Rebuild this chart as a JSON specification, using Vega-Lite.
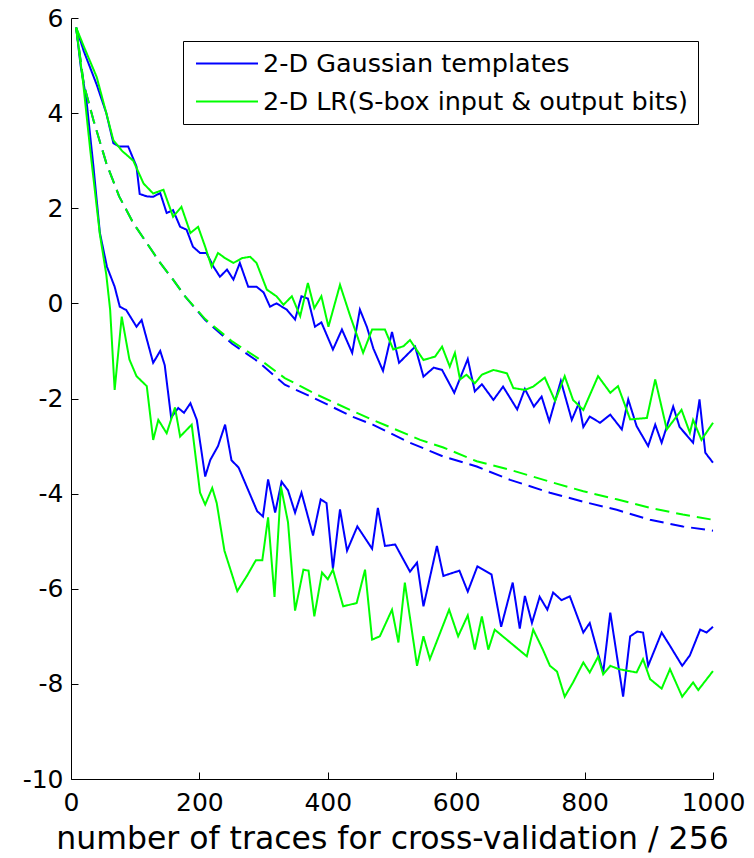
{
  "$schema": "https://vega.github.io/schema/vega-lite/v6.json",
  "width": 642,
  "height": 761,
  "autosize": "none",
  "padding": {"left": 71, "top": 18, "right": 41, "bottom": 79},
  "background": "#ffffff",
  "config": {"view": {"stroke": null}},
  "data": {
    "values": [
      {"method":"G","curve":"U","x":8,"y":5.8},{"method":"G","curve":"U","x":20,"y":5.3},{"method":"G","curve":"U","x":40,"y":4.6},{"method":"G","curve":"U","x":55,"y":4.0},{"method":"G","curve":"U","x":66,"y":3.37},{"method":"G","curve":"U","x":75,"y":3.3},{"method":"G","curve":"U","x":89,"y":3.3},{"method":"G","curve":"U","x":102,"y":2.88},{"method":"G","curve":"U","x":107,"y":2.3},{"method":"G","curve":"U","x":118,"y":2.25},{"method":"G","curve":"U","x":128,"y":2.24},{"method":"G","curve":"U","x":139,"y":2.32},{"method":"G","curve":"U","x":149,"y":1.9},{"method":"G","curve":"U","x":159,"y":1.96},{"method":"G","curve":"U","x":170,"y":1.61},{"method":"G","curve":"U","x":180,"y":1.55},{"method":"G","curve":"U","x":190,"y":1.19},{"method":"G","curve":"U","x":201,"y":1.06},{"method":"G","curve":"U","x":211,"y":1.06},{"method":"G","curve":"U","x":222,"y":0.77},{"method":"G","curve":"U","x":232,"y":0.56},{"method":"G","curve":"U","x":243,"y":0.71},{"method":"G","curve":"U","x":253,"y":0.5},{"method":"G","curve":"U","x":263,"y":0.85},{"method":"G","curve":"U","x":276,"y":0.35},{"method":"G","curve":"U","x":289,"y":0.35},{"method":"G","curve":"U","x":300,"y":0.23},{"method":"G","curve":"U","x":310,"y":-0.07},{"method":"G","curve":"U","x":320,"y":0.0},{"method":"G","curve":"U","x":336,"y":-0.13},{"method":"G","curve":"U","x":349,"y":-0.34},{"method":"G","curve":"U","x":359,"y":0.15},{"method":"G","curve":"U","x":369,"y":0.1},{"method":"G","curve":"U","x":380,"y":-0.49},{"method":"G","curve":"U","x":390,"y":-0.4},{"method":"G","curve":"U","x":408,"y":-0.97},{"method":"G","curve":"U","x":422,"y":-0.55},{"method":"G","curve":"U","x":438,"y":-1.04},{"method":"G","curve":"U","x":450,"y":-0.13},{"method":"G","curve":"U","x":461,"y":-0.5},{"method":"G","curve":"U","x":471,"y":-0.95},{"method":"G","curve":"U","x":486,"y":-1.42},{"method":"G","curve":"U","x":500,"y":-0.6},{"method":"G","curve":"U","x":511,"y":-1.25},{"method":"G","curve":"U","x":536,"y":-0.91},{"method":"G","curve":"U","x":549,"y":-1.54},{"method":"G","curve":"U","x":565,"y":-1.35},{"method":"G","curve":"U","x":578,"y":-1.4},{"method":"G","curve":"U","x":597,"y":-1.88},{"method":"G","curve":"U","x":618,"y":-1.17},{"method":"G","curve":"U","x":629,"y":-1.85},{"method":"G","curve":"U","x":640,"y":-1.7},{"method":"G","curve":"U","x":658,"y":-2.03},{"method":"G","curve":"U","x":673,"y":-1.75},{"method":"G","curve":"U","x":695,"y":-2.23},{"method":"G","curve":"U","x":707,"y":-1.8},{"method":"G","curve":"U","x":721,"y":-2.17},{"method":"G","curve":"U","x":733,"y":-1.96},{"method":"G","curve":"U","x":745,"y":-2.48},{"method":"G","curve":"U","x":763,"y":-1.63},{"method":"G","curve":"U","x":780,"y":-2.45},{"method":"G","curve":"U","x":791,"y":-2.1},{"method":"G","curve":"U","x":798,"y":-2.6},{"method":"G","curve":"U","x":808,"y":-2.38},{"method":"G","curve":"U","x":824,"y":-2.51},{"method":"G","curve":"U","x":840,"y":-2.34},{"method":"G","curve":"U","x":858,"y":-2.65},{"method":"G","curve":"U","x":868,"y":-2.02},{"method":"G","curve":"U","x":881,"y":-2.58},{"method":"G","curve":"U","x":899,"y":-3.0},{"method":"G","curve":"U","x":910,"y":-2.55},{"method":"G","curve":"U","x":920,"y":-2.93},{"method":"G","curve":"U","x":938,"y":-2.17},{"method":"G","curve":"U","x":948,"y":-2.6},{"method":"G","curve":"U","x":969,"y":-2.93},{"method":"G","curve":"U","x":979,"y":-2.02},{"method":"G","curve":"U","x":988,"y":-3.14},{"method":"G","curve":"U","x":1000,"y":-3.35},

      {"method":"G","curve":"M","x":8,"y":5.8},{"method":"G","curve":"M","x":20,"y":4.6},{"method":"G","curve":"M","x":35,"y":3.85},{"method":"G","curve":"M","x":55,"y":2.95},{"method":"G","curve":"M","x":75,"y":2.25},{"method":"G","curve":"M","x":97,"y":1.69},{"method":"G","curve":"M","x":118,"y":1.27},{"method":"G","curve":"M","x":139,"y":0.85},{"method":"G","curve":"M","x":159,"y":0.5},{"method":"G","curve":"M","x":178,"y":0.14},{"method":"G","curve":"M","x":209,"y":-0.35},{"method":"G","curve":"M","x":251,"y":-0.85},{"method":"G","curve":"M","x":291,"y":-1.22},{"method":"G","curve":"M","x":333,"y":-1.71},{"method":"G","curve":"M","x":380,"y":-2.0},{"method":"G","curve":"M","x":438,"y":-2.38},{"method":"G","curve":"M","x":470,"y":-2.55},{"method":"G","curve":"M","x":528,"y":-2.93},{"method":"G","curve":"M","x":580,"y":-3.22},{"method":"G","curve":"M","x":632,"y":-3.43},{"method":"G","curve":"M","x":684,"y":-3.71},{"method":"G","curve":"M","x":746,"y":-3.98},{"method":"G","curve":"M","x":798,"y":-4.17},{"method":"G","curve":"M","x":850,"y":-4.34},{"method":"G","curve":"M","x":902,"y":-4.55},{"method":"G","curve":"M","x":953,"y":-4.69},{"method":"G","curve":"M","x":1000,"y":-4.78},

      {"method":"G","curve":"L","x":8,"y":5.8},{"method":"G","curve":"L","x":15,"y":5.0},{"method":"G","curve":"L","x":24,"y":4.28},{"method":"G","curve":"L","x":35,"y":2.87},{"method":"G","curve":"L","x":45,"y":1.48},{"method":"G","curve":"L","x":56,"y":0.77},{"method":"G","curve":"L","x":68,"y":0.35},{"method":"G","curve":"L","x":76,"y":-0.07},{"method":"G","curve":"L","x":86,"y":-0.14},{"method":"G","curve":"L","x":102,"y":-0.49},{"method":"G","curve":"L","x":110,"y":-0.35},{"method":"G","curve":"L","x":128,"y":-1.25},{"method":"G","curve":"L","x":139,"y":-1.0},{"method":"G","curve":"L","x":146,"y":-1.3},{"method":"G","curve":"L","x":156,"y":-2.4},{"method":"G","curve":"L","x":167,"y":-2.2},{"method":"G","curve":"L","x":176,"y":-2.3},{"method":"G","curve":"L","x":186,"y":-2.1},{"method":"G","curve":"L","x":196,"y":-2.45},{"method":"G","curve":"L","x":209,"y":-3.64},{"method":"G","curve":"L","x":217,"y":-3.29},{"method":"G","curve":"L","x":229,"y":-3.0},{"method":"G","curve":"L","x":240,"y":-2.55},{"method":"G","curve":"L","x":250,"y":-3.3},{"method":"G","curve":"L","x":261,"y":-3.45},{"method":"G","curve":"L","x":290,"y":-4.37},{"method":"G","curve":"L","x":299,"y":-4.48},{"method":"G","curve":"L","x":307,"y":-3.7},{"method":"G","curve":"L","x":318,"y":-4.4},{"method":"G","curve":"L","x":328,"y":-3.75},{"method":"G","curve":"L","x":338,"y":-3.93},{"method":"G","curve":"L","x":349,"y":-4.4},{"method":"G","curve":"L","x":359,"y":-3.98},{"method":"G","curve":"L","x":377,"y":-4.88},{"method":"G","curve":"L","x":389,"y":-4.12},{"method":"G","curve":"L","x":398,"y":-4.2},{"method":"G","curve":"L","x":408,"y":-5.58},{"method":"G","curve":"L","x":419,"y":-4.33},{"method":"G","curve":"L","x":430,"y":-5.2},{"method":"G","curve":"L","x":446,"y":-4.69},{"method":"G","curve":"L","x":469,"y":-5.16},{"method":"G","curve":"L","x":478,"y":-4.3},{"method":"G","curve":"L","x":489,"y":-5.1},{"method":"G","curve":"L","x":505,"y":-5.07},{"method":"G","curve":"L","x":528,"y":-5.64},{"method":"G","curve":"L","x":539,"y":-5.45},{"method":"G","curve":"L","x":549,"y":-6.37},{"method":"G","curve":"L","x":570,"y":-5.1},{"method":"G","curve":"L","x":580,"y":-5.73},{"method":"G","curve":"L","x":605,"y":-5.62},{"method":"G","curve":"L","x":618,"y":-6.06},{"method":"G","curve":"L","x":633,"y":-5.53},{"method":"G","curve":"L","x":655,"y":-5.7},{"method":"G","curve":"L","x":670,"y":-6.8},{"method":"G","curve":"L","x":688,"y":-5.87},{"method":"G","curve":"L","x":699,"y":-6.84},{"method":"G","curve":"L","x":707,"y":-6.15},{"method":"G","curve":"L","x":718,"y":-6.72},{"method":"G","curve":"L","x":730,"y":-6.17},{"method":"G","curve":"L","x":742,"y":-6.44},{"method":"G","curve":"L","x":751,"y":-6.08},{"method":"G","curve":"L","x":764,"y":-6.24},{"method":"G","curve":"L","x":777,"y":-6.16},{"method":"G","curve":"L","x":798,"y":-6.92},{"method":"G","curve":"L","x":808,"y":-6.72},{"method":"G","curve":"L","x":829,"y":-7.76},{"method":"G","curve":"L","x":840,"y":-6.5},{"method":"G","curve":"L","x":860,"y":-8.27},{"method":"G","curve":"L","x":871,"y":-7.0},{"method":"G","curve":"L","x":882,"y":-6.9},{"method":"G","curve":"L","x":891,"y":-6.92},{"method":"G","curve":"L","x":899,"y":-7.62},{"method":"G","curve":"L","x":920,"y":-6.92},{"method":"G","curve":"L","x":933,"y":-7.2},{"method":"G","curve":"L","x":952,"y":-7.62},{"method":"G","curve":"L","x":964,"y":-7.4},{"method":"G","curve":"L","x":980,"y":-6.86},{"method":"G","curve":"L","x":990,"y":-6.92},{"method":"G","curve":"L","x":1000,"y":-6.8},

      {"method":"R","curve":"U","x":8,"y":5.8},{"method":"R","curve":"U","x":20,"y":5.4},{"method":"R","curve":"U","x":40,"y":4.76},{"method":"R","curve":"U","x":55,"y":4.0},{"method":"R","curve":"U","x":66,"y":3.43},{"method":"R","curve":"U","x":80,"y":3.2},{"method":"R","curve":"U","x":97,"y":3.0},{"method":"R","curve":"U","x":113,"y":2.52},{"method":"R","curve":"U","x":128,"y":2.31},{"method":"R","curve":"U","x":144,"y":2.39},{"method":"R","curve":"U","x":159,"y":1.82},{"method":"R","curve":"U","x":172,"y":2.03},{"method":"R","curve":"U","x":186,"y":1.48},{"method":"R","curve":"U","x":198,"y":1.61},{"method":"R","curve":"U","x":209,"y":1.19},{"method":"R","curve":"U","x":219,"y":0.77},{"method":"R","curve":"U","x":229,"y":1.06},{"method":"R","curve":"U","x":240,"y":0.95},{"method":"R","curve":"U","x":253,"y":0.85},{"method":"R","curve":"U","x":266,"y":0.95},{"method":"R","curve":"U","x":279,"y":0.98},{"method":"R","curve":"U","x":289,"y":0.85},{"method":"R","curve":"U","x":305,"y":0.29},{"method":"R","curve":"U","x":320,"y":0.15},{"method":"R","curve":"U","x":331,"y":-0.03},{"method":"R","curve":"U","x":344,"y":0.15},{"method":"R","curve":"U","x":357,"y":-0.27},{"method":"R","curve":"U","x":369,"y":0.43},{"method":"R","curve":"U","x":379,"y":-0.1},{"method":"R","curve":"U","x":390,"y":0.15},{"method":"R","curve":"U","x":401,"y":-0.49},{"method":"R","curve":"U","x":419,"y":0.39},{"method":"R","curve":"U","x":435,"y":-0.27},{"method":"R","curve":"U","x":455,"y":-1.04},{"method":"R","curve":"U","x":469,"y":-0.55},{"method":"R","curve":"U","x":489,"y":-0.55},{"method":"R","curve":"U","x":502,"y":-0.97},{"method":"R","curve":"U","x":518,"y":-0.9},{"method":"R","curve":"U","x":528,"y":-0.77},{"method":"R","curve":"U","x":549,"y":-1.19},{"method":"R","curve":"U","x":567,"y":-1.12},{"method":"R","curve":"U","x":578,"y":-0.91},{"method":"R","curve":"U","x":590,"y":-1.33},{"method":"R","curve":"U","x":598,"y":-1.04},{"method":"R","curve":"U","x":606,"y":-1.6},{"method":"R","curve":"U","x":616,"y":-1.5},{"method":"R","curve":"U","x":629,"y":-1.68},{"method":"R","curve":"U","x":640,"y":-1.5},{"method":"R","curve":"U","x":658,"y":-1.4},{"method":"R","curve":"U","x":679,"y":-1.47},{"method":"R","curve":"U","x":689,"y":-1.78},{"method":"R","curve":"U","x":707,"y":-1.82},{"method":"R","curve":"U","x":720,"y":-1.75},{"method":"R","curve":"U","x":738,"y":-1.56},{"method":"R","curve":"U","x":754,"y":-2.05},{"method":"R","curve":"U","x":769,"y":-1.53},{"method":"R","curve":"U","x":782,"y":-2.03},{"method":"R","curve":"U","x":798,"y":-2.24},{"method":"R","curve":"U","x":821,"y":-1.53},{"method":"R","curve":"U","x":840,"y":-1.88},{"method":"R","curve":"U","x":852,"y":-1.74},{"method":"R","curve":"U","x":871,"y":-2.44},{"method":"R","curve":"U","x":897,"y":-2.41},{"method":"R","curve":"U","x":910,"y":-1.6},{"method":"R","curve":"U","x":928,"y":-2.65},{"method":"R","curve":"U","x":951,"y":-2.24},{"method":"R","curve":"U","x":964,"y":-2.72},{"method":"R","curve":"U","x":969,"y":-2.45},{"method":"R","curve":"U","x":982,"y":-2.87},{"method":"R","curve":"U","x":1000,"y":-2.51},

      {"method":"R","curve":"M","x":8,"y":5.8},{"method":"R","curve":"M","x":20,"y":4.6},{"method":"R","curve":"M","x":35,"y":3.85},{"method":"R","curve":"M","x":55,"y":2.95},{"method":"R","curve":"M","x":75,"y":2.25},{"method":"R","curve":"M","x":97,"y":1.69},{"method":"R","curve":"M","x":118,"y":1.27},{"method":"R","curve":"M","x":139,"y":0.85},{"method":"R","curve":"M","x":159,"y":0.5},{"method":"R","curve":"M","x":178,"y":0.14},{"method":"R","curve":"M","x":209,"y":-0.33},{"method":"R","curve":"M","x":251,"y":-0.8},{"method":"R","curve":"M","x":291,"y":-1.15},{"method":"R","curve":"M","x":333,"y":-1.57},{"method":"R","curve":"M","x":380,"y":-1.9},{"method":"R","curve":"M","x":438,"y":-2.26},{"method":"R","curve":"M","x":470,"y":-2.45},{"method":"R","curve":"M","x":544,"y":-2.87},{"method":"R","curve":"M","x":580,"y":-3.03},{"method":"R","curve":"M","x":632,"y":-3.32},{"method":"R","curve":"M","x":684,"y":-3.5},{"method":"R","curve":"M","x":746,"y":-3.75},{"method":"R","curve":"M","x":798,"y":-3.95},{"method":"R","curve":"M","x":850,"y":-4.12},{"method":"R","curve":"M","x":902,"y":-4.3},{"method":"R","curve":"M","x":953,"y":-4.44},{"method":"R","curve":"M","x":1000,"y":-4.55},

      {"method":"R","curve":"L","x":8,"y":5.8},{"method":"R","curve":"L","x":19,"y":4.63},{"method":"R","curve":"L","x":30,"y":3.22},{"method":"R","curve":"L","x":45,"y":1.45},{"method":"R","curve":"L","x":55,"y":0.6},{"method":"R","curve":"L","x":61,"y":-0.14},{"method":"R","curve":"L","x":68,"y":-1.82},{"method":"R","curve":"L","x":79,"y":-0.28},{"method":"R","curve":"L","x":91,"y":-1.18},{"method":"R","curve":"L","x":102,"y":-1.53},{"method":"R","curve":"L","x":118,"y":-1.74},{"method":"R","curve":"L","x":128,"y":-2.87},{"method":"R","curve":"L","x":136,"y":-2.45},{"method":"R","curve":"L","x":149,"y":-2.73},{"method":"R","curve":"L","x":162,"y":-2.19},{"method":"R","curve":"L","x":170,"y":-2.8},{"method":"R","curve":"L","x":188,"y":-2.55},{"method":"R","curve":"L","x":201,"y":-3.98},{"method":"R","curve":"L","x":209,"y":-4.23},{"method":"R","curve":"L","x":220,"y":-3.88},{"method":"R","curve":"L","x":227,"y":-4.2},{"method":"R","curve":"L","x":239,"y":-5.2},{"method":"R","curve":"L","x":259,"y":-6.05},{"method":"R","curve":"L","x":274,"y":-5.73},{"method":"R","curve":"L","x":288,"y":-5.4},{"method":"R","curve":"L","x":298,"y":-5.4},{"method":"R","curve":"L","x":307,"y":-4.5},{"method":"R","curve":"L","x":317,"y":-6.17},{"method":"R","curve":"L","x":327,"y":-3.85},{"method":"R","curve":"L","x":338,"y":-4.6},{"method":"R","curve":"L","x":349,"y":-6.46},{"method":"R","curve":"L","x":362,"y":-5.6},{"method":"R","curve":"L","x":370,"y":-5.62},{"method":"R","curve":"L","x":379,"y":-6.58},{"method":"R","curve":"L","x":391,"y":-5.66},{"method":"R","curve":"L","x":400,"y":-5.8},{"method":"R","curve":"L","x":408,"y":-5.6},{"method":"R","curve":"L","x":424,"y":-6.37},{"method":"R","curve":"L","x":445,"y":-6.3},{"method":"R","curve":"L","x":458,"y":-5.6},{"method":"R","curve":"L","x":469,"y":-7.07},{"method":"R","curve":"L","x":481,"y":-7.0},{"method":"R","curve":"L","x":500,"y":-6.44},{"method":"R","curve":"L","x":510,"y":-7.13},{"method":"R","curve":"L","x":520,"y":-5.87},{"method":"R","curve":"L","x":539,"y":-7.62},{"method":"R","curve":"L","x":549,"y":-7.0},{"method":"R","curve":"L","x":559,"y":-7.48},{"method":"R","curve":"L","x":589,"y":-6.44},{"method":"R","curve":"L","x":603,"y":-7.0},{"method":"R","curve":"L","x":618,"y":-6.56},{"method":"R","curve":"L","x":629,"y":-7.28},{"method":"R","curve":"L","x":640,"y":-6.58},{"method":"R","curve":"L","x":650,"y":-7.28},{"method":"R","curve":"L","x":660,"y":-6.86},{"method":"R","curve":"L","x":710,"y":-7.42},{"method":"R","curve":"L","x":720,"y":-6.86},{"method":"R","curve":"L","x":735,"y":-7.28},{"method":"R","curve":"L","x":746,"y":-7.62},{"method":"R","curve":"L","x":757,"y":-7.74},{"method":"R","curve":"L","x":769,"y":-8.27},{"method":"R","curve":"L","x":782,"y":-7.97},{"method":"R","curve":"L","x":798,"y":-7.55},{"method":"R","curve":"L","x":808,"y":-7.76},{"method":"R","curve":"L","x":821,"y":-7.43},{"method":"R","curve":"L","x":829,"y":-7.8},{"method":"R","curve":"L","x":840,"y":-7.62},{"method":"R","curve":"L","x":853,"y":-7.69},{"method":"R","curve":"L","x":881,"y":-7.76},{"method":"R","curve":"L","x":891,"y":-7.48},{"method":"R","curve":"L","x":902,"y":-7.9},{"method":"R","curve":"L","x":920,"y":-8.1},{"method":"R","curve":"L","x":933,"y":-7.69},{"method":"R","curve":"L","x":952,"y":-8.27},{"method":"R","curve":"L","x":969,"y":-7.97},{"method":"R","curve":"L","x":977,"y":-8.13},{"method":"R","curve":"L","x":1000,"y":-7.73}
    ]
  },
  "resolve": {"axis": {"x": "independent", "y": "independent"}},
  "layer": [
    {
      "transform": [{"filter": "datum.method == 'G'"}],
      "mark": {"type": "line", "strokeWidth": 2, "interpolate": "linear", "clip": false},
      "encoding": {
        "x": {
          "field": "x", "type": "quantitative",
          "scale": {"domain": [0, 1000], "nice": false, "zero": false},
          "axis": {
            "orient": "bottom",
            "values": [0, 200, 400, 600, 800, 1000],
            "grid": false, "domainColor": "#000000", "domainWidth": 1, "ticks": false,
            "labelFont": "DejaVu Sans", "labelFontSize": 25, "labelColor": "#000000",
            "labelPadding": 11, "labelFlush": false, "labelOverlap": false,
            "labelExpr": "'' + datum.value",
            "title": "number of traces for cross-validation / 256",
            "titleFont": "DejaVu Sans", "titleFontSize": 31.5, "titleFontWeight": "normal",
            "titleColor": "#000000", "titlePadding": 8
          }
        },
        "y": {
          "field": "y", "type": "quantitative",
          "scale": {"domain": [-10, 6], "nice": false, "zero": false},
          "axis": {
            "orient": "left",
            "values": [-10, -8, -6, -4, -2, 0, 2, 4, 6],
            "grid": false, "domainColor": "#000000", "domainWidth": 1, "ticks": false,
            "labelFont": "DejaVu Sans", "labelFontSize": 25, "labelColor": "#000000",
            "labelPadding": 8, "labelFlush": false, "labelOverlap": false,
            "labelExpr": "datum.value < 0 ? '-' + abs(datum.value) : '' + datum.value",
            "title": null
          }
        },
        "color": {
          "field": "method", "type": "nominal",
          "scale": {"domain": ["G", "R"], "range": ["#0000ff", "#00ff00"]},
          "legend": {
            "orient": "none", "legendX": 112, "legendY": 23, "title": null,
            "symbolType": "M-2.5,0H2.5", "symbolSize": 615, "symbolStrokeWidth": 2,
            "symbolOffset": 21.5, "labelOffset": 22.5,
            "labelFont": "DejaVu Sans", "labelFontSize": 25.5, "labelColor": "#000000", "labelLimit": 0,
            "padding": 9, "rowPadding": 11,
            "strokeColor": "#000000", "fillColor": "#ffffff",
            "labelExpr": "datum.label == 'G' ? '2-D Gaussian templates' : '2-D LR(S-box input & output bits)'"
          }
        },
        "strokeDash": {
          "field": "curve", "type": "nominal",
          "scale": {"domain": ["U", "M", "L"], "range": [[1, 0], [14, 7], [1, 0]]},
          "legend": null
        }
      }
    },
    {
      "transform": [{"filter": "datum.method == 'R'"}],
      "mark": {"type": "line", "strokeWidth": 2, "interpolate": "linear", "clip": false},
      "encoding": {
        "x": {
          "field": "x", "type": "quantitative",
          "axis": {
            "orient": "top", "offset": -761,
            "values": [0, 200, 400, 600, 800, 1000],
            "grid": false, "domain": false, "labels": false, "title": null,
            "ticks": true, "tickSize": 7, "tickColor": "#000000", "tickWidth": 1
          }
        },
        "y": {
          "field": "y", "type": "quantitative",
          "axis": {
            "orient": "right", "offset": -642,
            "values": [-10, -8, -6, -4, -2, 0, 2, 4, 6],
            "grid": false, "domain": false, "labels": false, "title": null,
            "ticks": true, "tickSize": 7, "tickColor": "#000000", "tickWidth": 1
          }
        },
        "color": {
          "field": "method", "type": "nominal",
          "scale": {"domain": ["G", "R"], "range": ["#0000ff", "#00ff00"]}
        },
        "strokeDash": {
          "field": "curve", "type": "nominal",
          "scale": {"domain": ["U", "M", "L"], "range": [[1, 0], [14, 7], [1, 0]]},
          "legend": null
        }
      }
    }
  ]
}
